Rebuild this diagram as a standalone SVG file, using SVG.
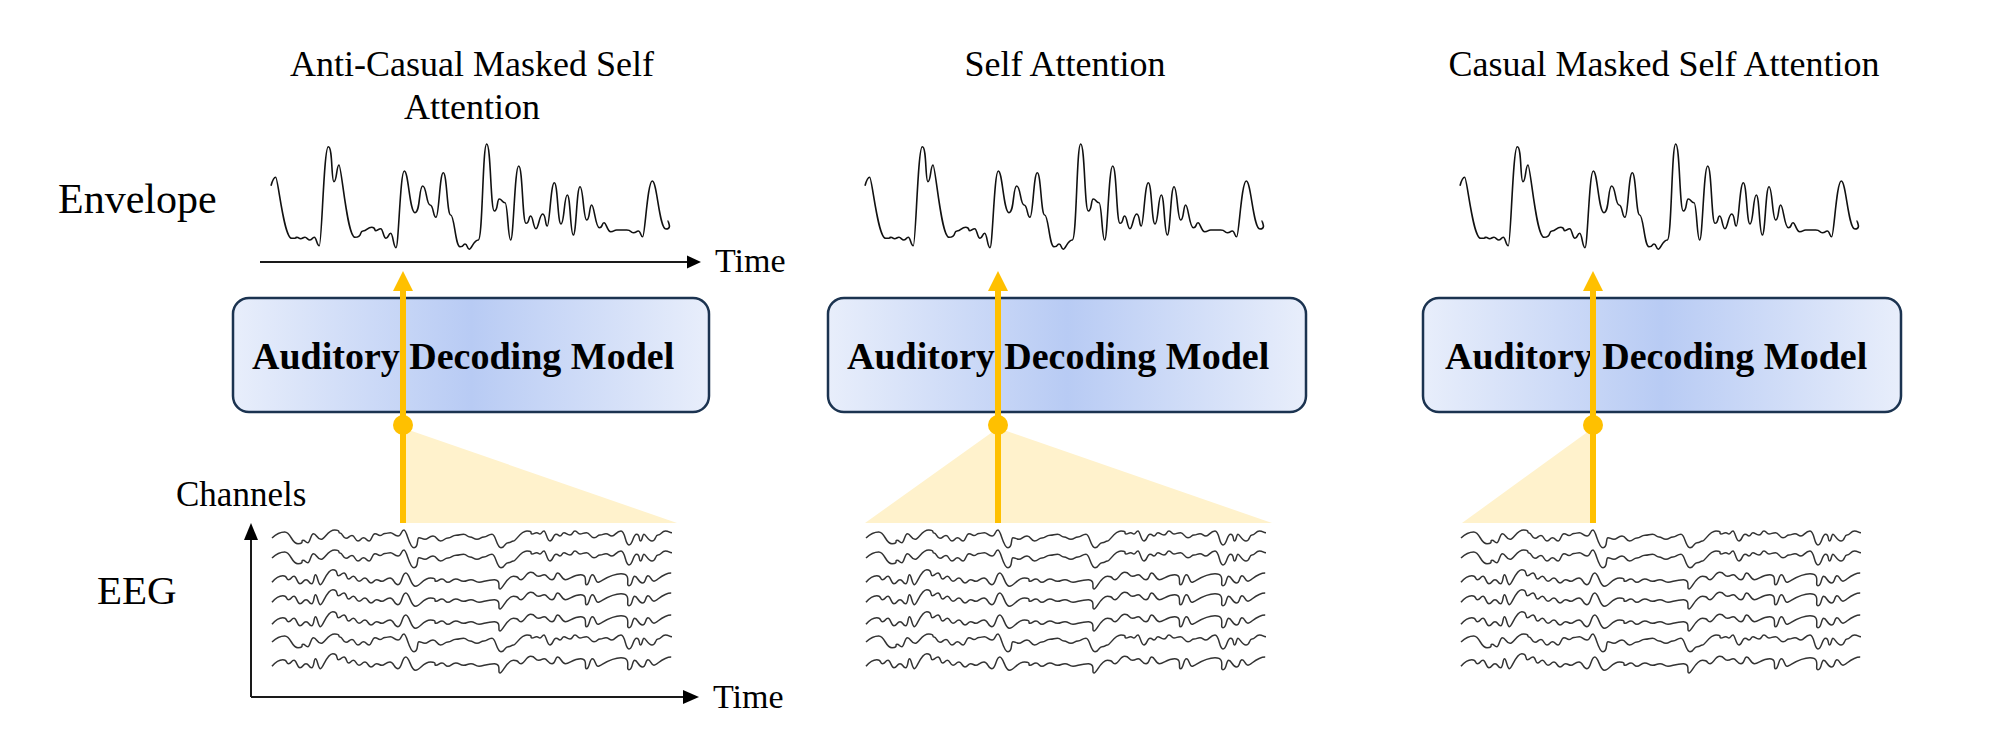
<svg xmlns="http://www.w3.org/2000/svg" xmlns:xlink="http://www.w3.org/1999/xlink" width="1997" height="756" viewBox="0 0 1997 756">
<style>
.title{font-family:"Liberation Serif","Times New Roman",serif;font-size:36px;fill:#000;text-anchor:middle}
.lbl{font-family:"Liberation Serif","Times New Roman",serif;fill:#000}
.model{font-family:"Liberation Serif","Times New Roman",serif;font-size:38px;font-weight:bold;fill:#000}
.box{fill:url(#boxGrad);stroke:#1b3350;stroke-width:2.5}
.env{fill:none;stroke:#111;stroke-width:1.6;stroke-linejoin:round}
.eeg{fill:none;stroke:#333;stroke-width:1.5;stroke-linejoin:round}
.axis{stroke:#1a1a1a;stroke-width:2;fill:none}
.axhead{fill:#000}
.fan{fill:#fff2cc}
.arr{stroke:#ffc000;stroke-width:6;fill:none}
.arrhead{fill:#ffc000}
</style>
<defs>
<linearGradient id="boxGrad" x1="0" y1="0" x2="1" y2="0">
<stop offset="0" stop-color="#e8eefb"/>
<stop offset="0.5" stop-color="#b8cbf4"/>
<stop offset="1" stop-color="#e8eefb"/>
</linearGradient>
<path id="envWave" class="env" d="M-1,185.7 S1.35,177.3 3.7,177.3 S11.7,238.3 19.7,238.3 S22.2,237.3 24.7,237.3 S26.7,238.7 28.7,238.7 S30.85,237.3 33,237.3 S35.5,240 38,240 S40.15,237.3 42.3,237.3 S44.8,245.7 47.3,245.7 S51.8,146.7 56.3,146.7 S59.15,181.7 62,181.7 S64.5,165 67,165 S75,237.3 83,237.3 S87,231 91,231 S95.35,227.3 99.7,227.3 S101.85,230.7 104,230.7 S106.35,228.7 108.7,228.7 S111.35,238.3 114,238.3 S116.35,233.3 118.7,233.3 S121.35,247.7 124,247.7 S128.15,171 132.3,171 S137.65,212.7 143,212.7 S146.85,186 150.7,186 S154.35,205 158,205 S161,217.3 164,217.3 S167.65,172.7 171.3,172.7 S175,215 178.7,215 S183.35,246.7 188,246.7 S190.5,244 193,244 S195.15,249.3 197.3,249.3 S201.8,240 206.3,240 S210.5,144 214.7,144 S218.5,211 222.3,211 S224.8,199 227.3,199 S230.15,202.7 233,202.7 S235.85,240 238.7,240 S242.7,166 246.7,166 S250.35,223.3 254,223.3 S256.35,216 258.7,216 S261.35,228.7 264,228.7 S267.35,214 270.7,214 S273,226 275.3,226 S278.8,182.7 282.3,182.7 S285.65,224 289,224 S292.15,195 295.3,195 S298.3,235 301.3,235 S304.65,186.7 308,186.7 S311.35,220 314.7,220 S317.2,205 319.7,205 S323.5,227.7 327.3,227.7 S329.65,222.7 332,222.7 S335.35,231.7 338.7,231.7 S341.7,230 344.7,230 S349.7,230 354.7,230 S358,232.7 361.3,232.7 S363.8,231 366.3,231 S368.5,236.7 370.7,236.7 S375.5,181 380.3,181 S387.15,229 394,229 S395.15,220.7 396.3,220.7"/>
<path id="eegA" class="eeg" d="M0,2 S6.35,-4 12.7,-4 S19.35,7.7 26,7.7 S28.5,4.3 31,4.3 S33.4,6.7 35.8,6.7 S38.65,-2.3 41.5,-2.3 S45.25,3.3 49,3.3 S55.85,-6 62.7,-6 S65.35,-3 68,-3 S71,2.3 74,2.3 S77,-0.5 80,-0.5 S83,5 86,5 S88.75,1.7 91.5,1.7 S94.25,5 97,5 S100,-2.3 103,-2.3 S105.5,-0.5 108,-0.5 S110.5,-2.5 113,-2.5 S115.75,-3.3 118.5,-3.3 S122.25,0 126,0 S129,-6 132,-6 S137,11.7 142,11.7 S144.5,1.7 147,1.7 S150,3.3 153,3.3 S157,0 161,0 S164.75,5 168.5,5 S172.25,2 176,2 S180,-0.7 184,-0.7 S187.75,-1.7 191.5,-1.7 S194.75,1 198,1 S201.5,3.3 205,3.3 S208.5,1 212,1 S216,-1.7 220,-1.7 S224.5,11.7 229,11.7 S232.5,6.7 236,6.7 S238.75,5 241.5,5 S248.25,-5 255,-5 S257.5,-2 260,-2 S262.3,-3.3 264.6,-3.3 S266.3,-2 268,-2 S270,-5 272,-5 S275,5 278,5 S281,-1.7 284,-1.7 S286,0 288,0 S290,-3.3 292,-3.3 S295,-1 298,-1 S300.5,-5 303,-5 S305.5,-2 308,-2 S311.3,-3.3 314.6,-3.3 S318.3,1.7 322,1.7 S325,-1 328,-1 S331,-2.3 334,-2.3 S337,0 340,0 S344.5,-5 349,-5 S353,9 357,9 S360.8,-1.7 364.6,-1.7 S366.55,5 368.5,5 S370.25,-1.7 372,-1.7 S376,5 380,5 S383,-1 386,-1 S389.75,-5 393.5,-5 S396.75,-3.3 400,-3.3"/>
<path id="eegB" class="eeg" d="M0,4.3 S5.4,-2.3 10.8,-2.3 S13.65,1.7 16.5,1.7 S19.25,-1.7 22,-1.7 S25,5.7 28,5.7 S31,1.7 34,1.7 S36.8,5.7 39.6,5.7 S41.55,-3.3 43.5,-3.3 S46,6.7 48.5,6.7 S54.65,-8.3 60.8,-8.3 S63.65,-2.3 66.5,-2.3 S69.25,-5 72,-5 S74.25,1 76.5,1 S79,-1.7 81.5,-1.7 S84.25,3.3 87,3.3 S90,0 93,0 S96,5 99,5 S101.8,1.7 104.6,1.7 S107.3,3.3 110,3.3 S114,0 118,0 S122,6.7 126,6.7 S129.9,-5 133.8,-5 S138.65,8.3 143.5,8.3 S151,0 158.5,0 S161.25,3.3 164,3.3 S167,1 170,1 S173,4.3 176,4.3 S179.9,1 183.8,1 S187.65,3.3 191.5,3.3 S195.25,1.7 199,1.7 S203,4.3 207,4.3 S214.65,1.7 222.3,1.7 S225.15,11 228,11 S234.75,-1.7 241.5,-1.7 S245.25,1.7 249,1.7 S253.9,-5.7 258.8,-5.7 S262.65,-1.7 266.5,-1.7 S269.4,-3.3 272.3,-3.3 S276.15,1.7 280,1.7 S282.9,-5 285.8,-5 S289.65,1.7 293.5,1.7 S301.15,-3.3 308.8,-3.3 S311.7,6.7 314.6,6.7 S317.5,-3.3 320.4,-3.3 S323.2,4.3 326,4.3 S337.5,-4.3 349,-4.3 S353,7.7 357,7.7 S359.85,-1.7 362.7,-1.7 S366.55,5 370.4,5 S373.2,-2.3 376,-2.3 S378.95,3.3 381.9,3.3 S390.55,-5 399.2,-5"/>
<g id="eegStack">
<use xlink:href="#eegA" href="#eegA" transform="translate(0,536)"/>
<use xlink:href="#eegA" href="#eegA" transform="translate(0,556)"/>
<use xlink:href="#eegB" href="#eegB" transform="translate(0,578)"/>
<use xlink:href="#eegB" href="#eegB" transform="translate(0,598)"/>
<use xlink:href="#eegB" href="#eegB" transform="translate(0,620)"/>
<use xlink:href="#eegA" href="#eegA" transform="translate(0,640)"/>
<use xlink:href="#eegB" href="#eegB" transform="translate(0,662)"/>
</g>
</defs>

<g id="fan-1"><polygon class="fan" points="403,428 403,523 677,523"/></g>
<g id="fan-2"><polygon class="fan" points="998,428 865,523 1272,523"/></g>
<g id="fan-3"><polygon class="fan" points="1593,428 1462,523 1593,523"/></g>

<g id="title-1">
<text class="title" x="472" y="76">Anti-Casual Masked Self</text>
<text class="title" x="472" y="119">Attention</text>
</g>
<g id="title-2"><text class="title" x="1065" y="76">Self Attention</text></g>
<g id="title-3"><text class="title" x="1664" y="76">Casual Masked Self Attention</text></g>

<g id="label-envelope"><text class="lbl" x="58" y="213" font-size="42">Envelope</text></g>
<g id="label-eeg"><text class="lbl" x="97" y="604" font-size="41">EEG</text></g>

<g id="envelope-1"><use xlink:href="#envWave" href="#envWave" transform="translate(272,0)"/></g>
<g id="envelope-2"><use xlink:href="#envWave" href="#envWave" transform="translate(866,0)"/></g>
<g id="envelope-3"><use xlink:href="#envWave" href="#envWave" transform="translate(1461,0)"/></g>

<g id="time-axis-top">
<line class="axis" x1="260" y1="262" x2="690" y2="262"/>
<polygon class="axhead" points="701,262 687,255.5 687,268.5"/>
<text class="lbl" x="715" y="272" font-size="34">Time</text>
</g>

<g id="eeg-axes">
<line class="axis" x1="251" y1="697" x2="251" y2="535"/>
<polygon class="axhead" points="251,523 244,540 258,540"/>
<line class="axis" x1="251" y1="697" x2="688" y2="697"/>
<polygon class="axhead" points="699,697 683,690 683,704"/>
<text class="lbl" x="176" y="506" font-size="35">Channels</text>
<text class="lbl" x="713" y="708" font-size="34">Time</text>
</g>

<g id="eeg-1"><use xlink:href="#eegStack" href="#eegStack" transform="translate(272,0)"/></g>
<g id="eeg-2"><use xlink:href="#eegStack" href="#eegStack" transform="translate(866,0)"/></g>
<g id="eeg-3"><use xlink:href="#eegStack" href="#eegStack" transform="translate(1461,0)"/></g>

<g id="model-1">
<rect class="box" x="233" y="298" width="476" height="114" rx="16"/>
<text class="model" x="252" y="369">Auditory Decoding Model</text>
</g>
<g id="model-2">
<rect class="box" x="828" y="298" width="478" height="114" rx="16"/>
<text class="model" x="847" y="369">Auditory Decoding Model</text>
</g>
<g id="model-3">
<rect class="box" x="1423" y="298" width="478" height="114" rx="16"/>
<text class="model" x="1445" y="369">Auditory Decoding Model</text>
</g>

<g id="connectors">
<line class="arr" x1="403" y1="523" x2="403" y2="288"/>
<polygon class="arrhead" points="403,271 393,291 413,291"/>
<circle cx="403" cy="425" r="10" fill="#ffc000"/>
<line class="arr" x1="998" y1="523" x2="998" y2="288"/>
<polygon class="arrhead" points="998,271 988,291 1008,291"/>
<circle cx="998" cy="425" r="10" fill="#ffc000"/>
<line class="arr" x1="1593" y1="523" x2="1593" y2="288"/>
<polygon class="arrhead" points="1593,271 1583,291 1603,291"/>
<circle cx="1593" cy="425" r="10" fill="#ffc000"/>
</g>
</svg>
